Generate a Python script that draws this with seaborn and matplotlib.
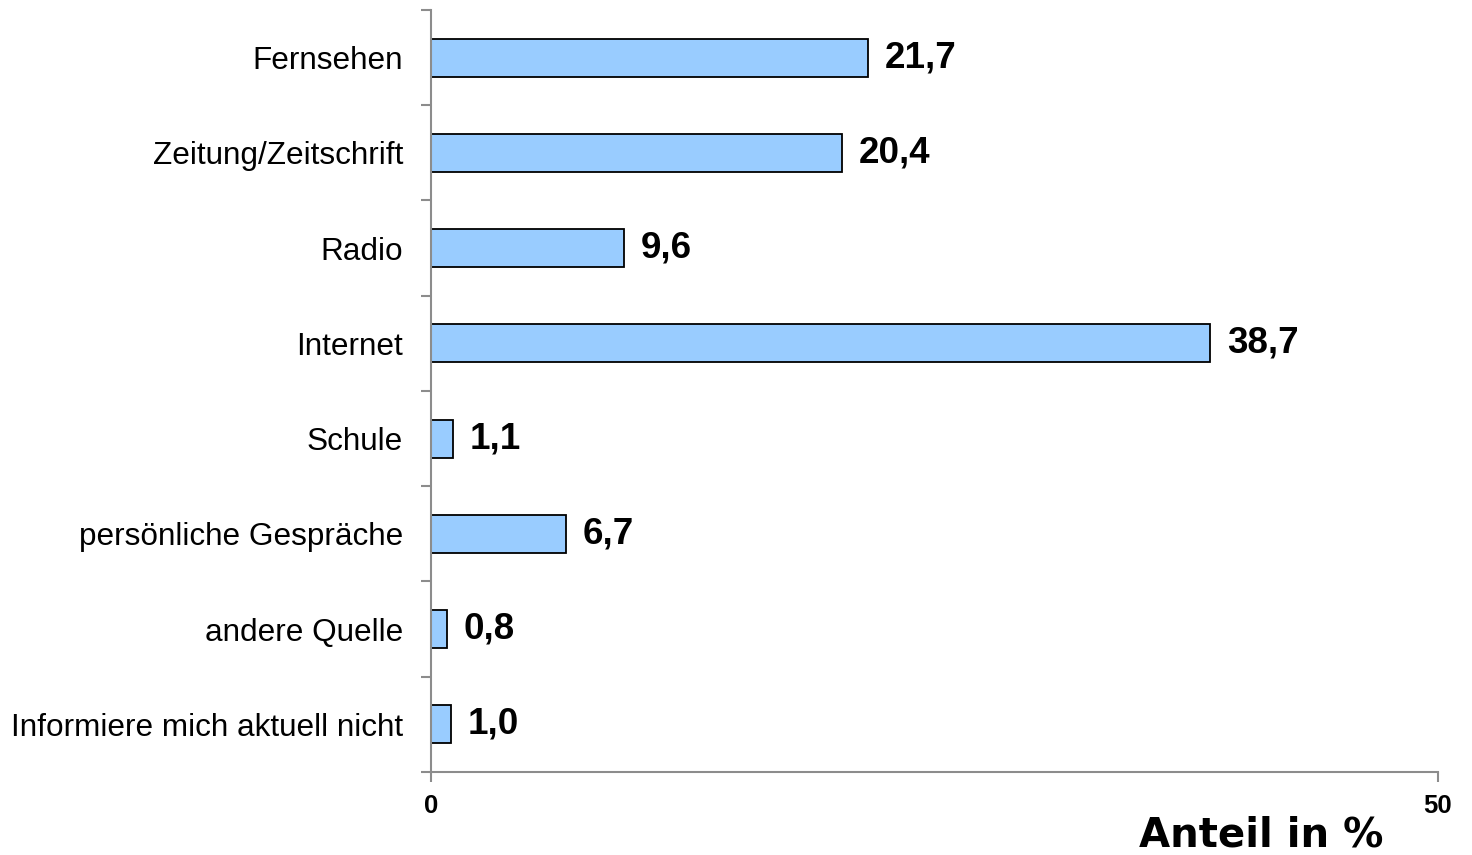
import numpy as np
import pandas as pd
import seaborn as sns
from matplotlib import pyplot as plt
from matplotlib import transforms

# data
categories = ['Fernsehen', 'Zeitung/Zeitschrift', 'Radio', 'Internet', 'Schule',
              'persönliche Gespräche', 'andere Quelle', 'Informiere mich aktuell nicht']
values = [21.7, 20.4, 9.6, 38.7, 1.1, 6.7, 0.8, 1.0]
value_labels = ['21,7', '20,4', '9,6', '38,7', '1,1', '6,7', '0,8', '1,0']

df = pd.DataFrame({'quelle': categories, 'anteil': values})

sns.set_style('white')
plt.rcParams['font.family'] = ['Liberation Sans', 'DejaVu Sans']
plt.rcParams['text.color'] = 'black'
plt.rcParams['xtick.color'] = 'black'
plt.rcParams['ytick.color'] = 'black'

fig = plt.figure(figsize=(14.72, 8.55), dpi=100)
ax = fig.add_axes([0.2928, 0.0971, 0.9769 - 0.2928, 0.9883 - 0.0971])

sns.barplot(data=df, x='anteil', y='quelle', orient='h', color='#99CCFF',
            saturation=1, edgecolor='black', linewidth=1.3, width=0.4, ax=ax)

ax.set_xlim(0, 50)
ax.set_ylim(7.5, -0.5)

# value labels, nudged down a little like in the original
texts = ax.bar_label(ax.containers[0], labels=value_labels, padding=12,
                     fontsize=26.5, fontweight='bold', color='black')
shift = transforms.ScaledTranslation(0, -2 / 100, fig.dpi_scale_trans)
for t in texts:
    t.set_transform(t.get_transform() + shift)

# axes styling
grey = '#8c8c8c'
for s in ['top', 'right']:
    ax.spines[s].set_visible(False)
for s in ['left', 'bottom']:
    ax.spines[s].set_color(grey)
    ax.spines[s].set_linewidth(1.5)

ax.set_yticks(range(len(categories)))
ax.set_yticklabels(categories, fontsize=22.7)
ax.tick_params(axis='y', which='major', left=True, length=0, pad=20, labelcolor='black')
ax.set_yticks(np.arange(-0.5, len(categories), 1), minor=True)
ax.tick_params(axis='y', which='minor', left=True, length=7, width=1.5, color=grey,
               direction='out')

ax.set_xticks([0, 50])
ax.set_xticklabels(['0', '50'], fontsize=18.5, fontweight='bold')
ax.tick_params(axis='x', bottom=True, length=7, width=1.5, color=grey, direction='out',
               pad=9, labelcolor='black')

ax.set_ylabel('')
ax.set_xlabel('Anteil in %', fontsize=29, fontweight='bold', family='DejaVu Sans',
              color='black')
ax.xaxis.set_label_coords(0.824, -0.057)
ax.xaxis.label.set_va('top')

plt.savefig('out.png', dpi=100)
plt.close()
